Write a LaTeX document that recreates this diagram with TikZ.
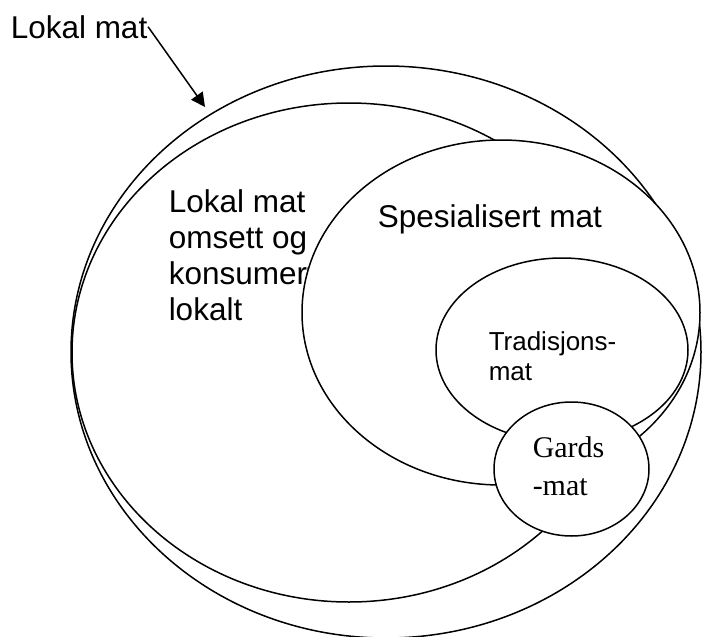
\documentclass[tikz,border=0pt]{standalone}
\usepackage{fontspec}
\setmainfont{Liberation Sans}
\newfontfamily\gardsfont{Liberation Serif}
\usetikzlibrary{shapes.geometric,arrows.meta}
\begin{document}
\begin{tikzpicture}[x=1pt,y=-1pt, line width=1.5pt,
  region/.style={ellipse, draw, fill=white, inner sep=0pt, outer sep=0pt},
  lbl/.style={inner sep=0pt, anchor=base west, align=left}]
\useasboundingbox (0,0) rectangle (702,637);
\node[region, minimum width=630pt, minimum height=572pt] (outer) at (386,352) {};
\node[region, minimum width=554pt, minimum height=499pt] (local) at (349,352.5) {};
% multi-line nodes: base anchor is at the last line's baseline
\node[lbl, font=\fontsize{31.5}{35.7}\selectfont] (localtxt) at (168,320) {Lokal mat\\omsett og\\konsumert\\lokalt};
\node[region, minimum width=398pt, minimum height=345pt] (spes) at (501,312.5) {};
\node[lbl, font=\fontsize{31.5}{36}\selectfont] (spestxt) at (377,227) {Spesialisert mat};
\node[region, minimum width=252pt, minimum height=184pt] (trad) at (562,350) {};
\node[lbl, font=\fontsize{26}{30}\selectfont] (tradtxt) at (488,380) {Tradisjons-\\mat};
\node[region, minimum width=155pt, minimum height=134pt] (gards) at (571.5,469) {};
\node[lbl, font=\gardsfont\fontsize{30}{38}\selectfont] (gardstxt) at (532,495) {Gards\\-mat};
\node[lbl, font=\fontsize{31.5}{36}\selectfont] (toplbl) at (10,38) {Lokal mat};
\coordinate (tip) at (205,107);
\draw[-{Triangle[length=14pt,width=14pt]}] (toplbl.east) -- (tip);
\end{tikzpicture}
\end{document}
